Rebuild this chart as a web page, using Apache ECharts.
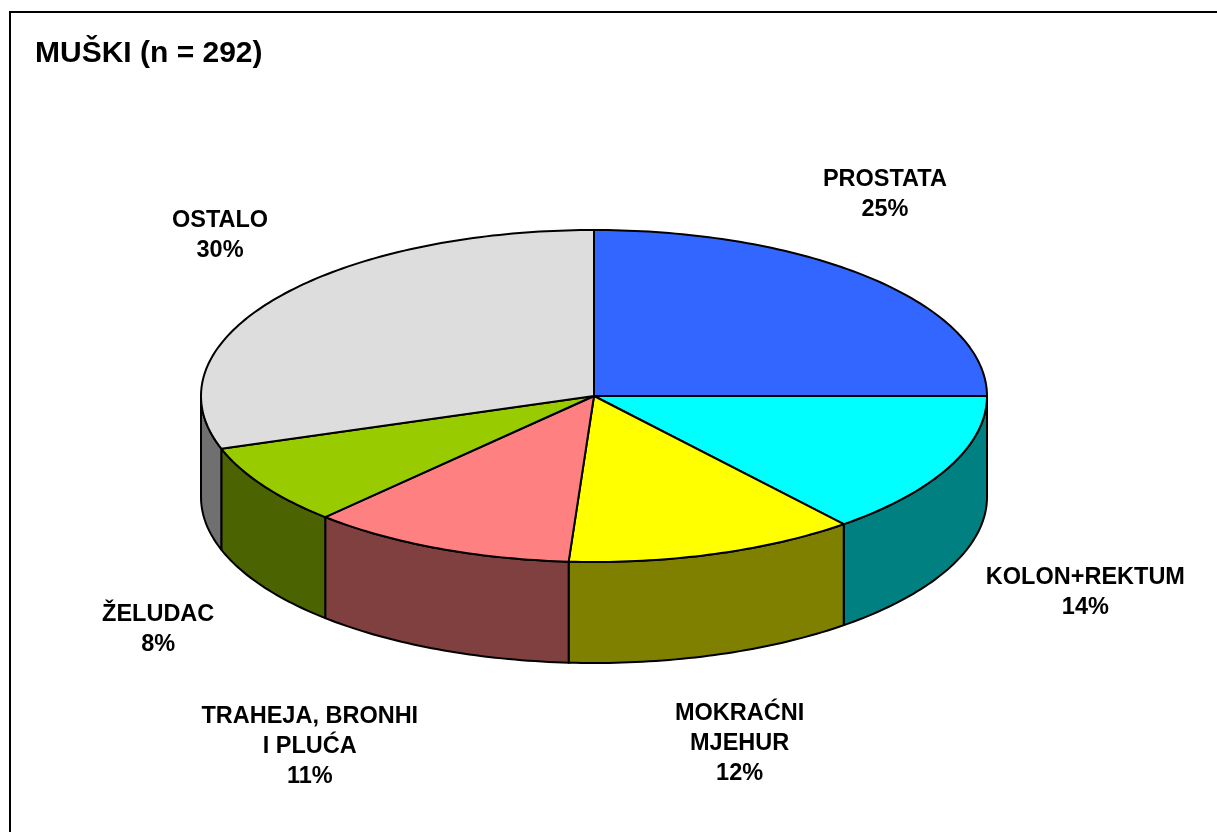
<!DOCTYPE html>
<html>
<head>
<meta charset="utf-8">
<script src="https://cdn.jsdelivr.net/npm/echarts@6/dist/echarts.min.js"></script>
<style>
  html, body { margin: 0; padding: 0; background: #fff; }
  #main { width: 1217px; height: 832px; }
</style>
</head>
<body>
<div id="main"></div>
<script>
// podaci (n = 292)
const categories = ['PROSTATA', 'KOLON+REKTUM', 'MOKRAĆNI\nMJEHUR', 'TRAHEJA, BRONHI\nI PLUĆA', 'ŽELUDAC', 'OSTALO'];
const counts = [73, 41, 35, 32, 23, 88];
const topColors = ['#3366ff', '#00ffff', '#ffff00', '#ff8080', '#99cc00', '#dddddd'];
const sideColors = ['#1a33a0', '#008080', '#808000', '#804040', '#4b6300', '#707070'];
// pomak natpisa od ruba torte
const labelShift = [[13, -84], [136, 25], [25, 89], [-128, 97], [-105, 43], [-55, -63]];

const total = counts.reduce((a, b) => a + b, 0);
let acc = 0;
const sliceData = counts.map((v, i) => {
  const s = acc;
  acc += v;
  return [1, s, acc, i];
});

const flat = 166 / 393; // spljoštenost elipse
const depth = 101;      // visina boka

function renderSlice(params, api) {
  const i = api.value(3);
  const start = api.value(1);
  const end = api.value(2);
  const c = api.coord([0, 0]);
  const pt = (v, dy) => {
    const p = api.coord([1, v]);
    return [p[0], c[1] + (p[1] - c[1]) * flat + (dy || 0)];
  };
  const arc = (s, e, dy) => {
    const n = Math.max(2, Math.ceil((e - s) / total * 360));
    const out = [];
    for (let k = 0; k <= n; k++) out.push(pt(s + (e - s) * k / n, dy));
    return out;
  };
  const children = [];
  // bok (samo prednja polovica)
  const s = Math.max(start, total / 4);
  const e = Math.min(end, total * 3 / 4);
  if (s < e) {
    const pts = arc(s, e, 0).concat(arc(s, e, depth).reverse());
    children.push({
      type: 'polygon', z2: 1,
      shape: { points: pts },
      style: { fill: sideColors[i], stroke: '#000', lineWidth: 2, lineJoin: 'round' }
    });
  }
  // gornja ploha
  children.push({
    type: 'polygon', z2: 2,
    shape: { points: [c].concat(arc(start, end, 0)) },
    style: { fill: topColors[i], stroke: '#000', lineWidth: 2, lineJoin: 'round' }
  });
  // natpis
  const mid = (start + end) / 2;
  const m = pt(mid, 0);
  const front = m[1] > c[1];
  const pct = Math.round((end - start) / total * 100);
  children.push({
    type: 'text', z2: 3,
    style: {
      text: categories[i] + '\n' + pct + '%',
      x: m[0] + labelShift[i][0],
      y: m[1] + (front ? depth : 0) + labelShift[i][1],
      align: 'center',
      verticalAlign: 'middle',
      font: 'bold 23.5px "Liberation Sans", Arial, sans-serif',
      lineHeight: 30,
      fill: '#000'
    }
  });
  return { type: 'group', children: children };
}

const chart = echarts.init(document.getElementById('main'));
chart.setOption({
  backgroundColor: '#fff',
  animation: false,
  title: {
    text: 'MUŠKI (n = 292)',
    left: 30,
    top: 34,
    textStyle: { fontFamily: '"Liberation Sans", Arial, sans-serif', fontSize: 30, fontWeight: 'bold', color: '#000' }
  },
  polar: { center: [594, 396], radius: 393 },
  angleAxis: { type: 'value', min: 0, max: total, startAngle: 90, clockwise: true, show: false },
  radiusAxis: { type: 'value', min: 0, max: 1, show: false },
  graphic: [{
    type: 'rect',
    shape: { x: 10, y: 12, width: 1400, height: 1000 },
    style: { fill: 'none', stroke: '#000', lineWidth: 2 },
    silent: true
  }],
  series: [{
    type: 'custom',
    coordinateSystem: 'polar',
    renderItem: renderSlice,
    data: sliceData,
    silent: true
  }]
});
</script>
</body>
</html>
